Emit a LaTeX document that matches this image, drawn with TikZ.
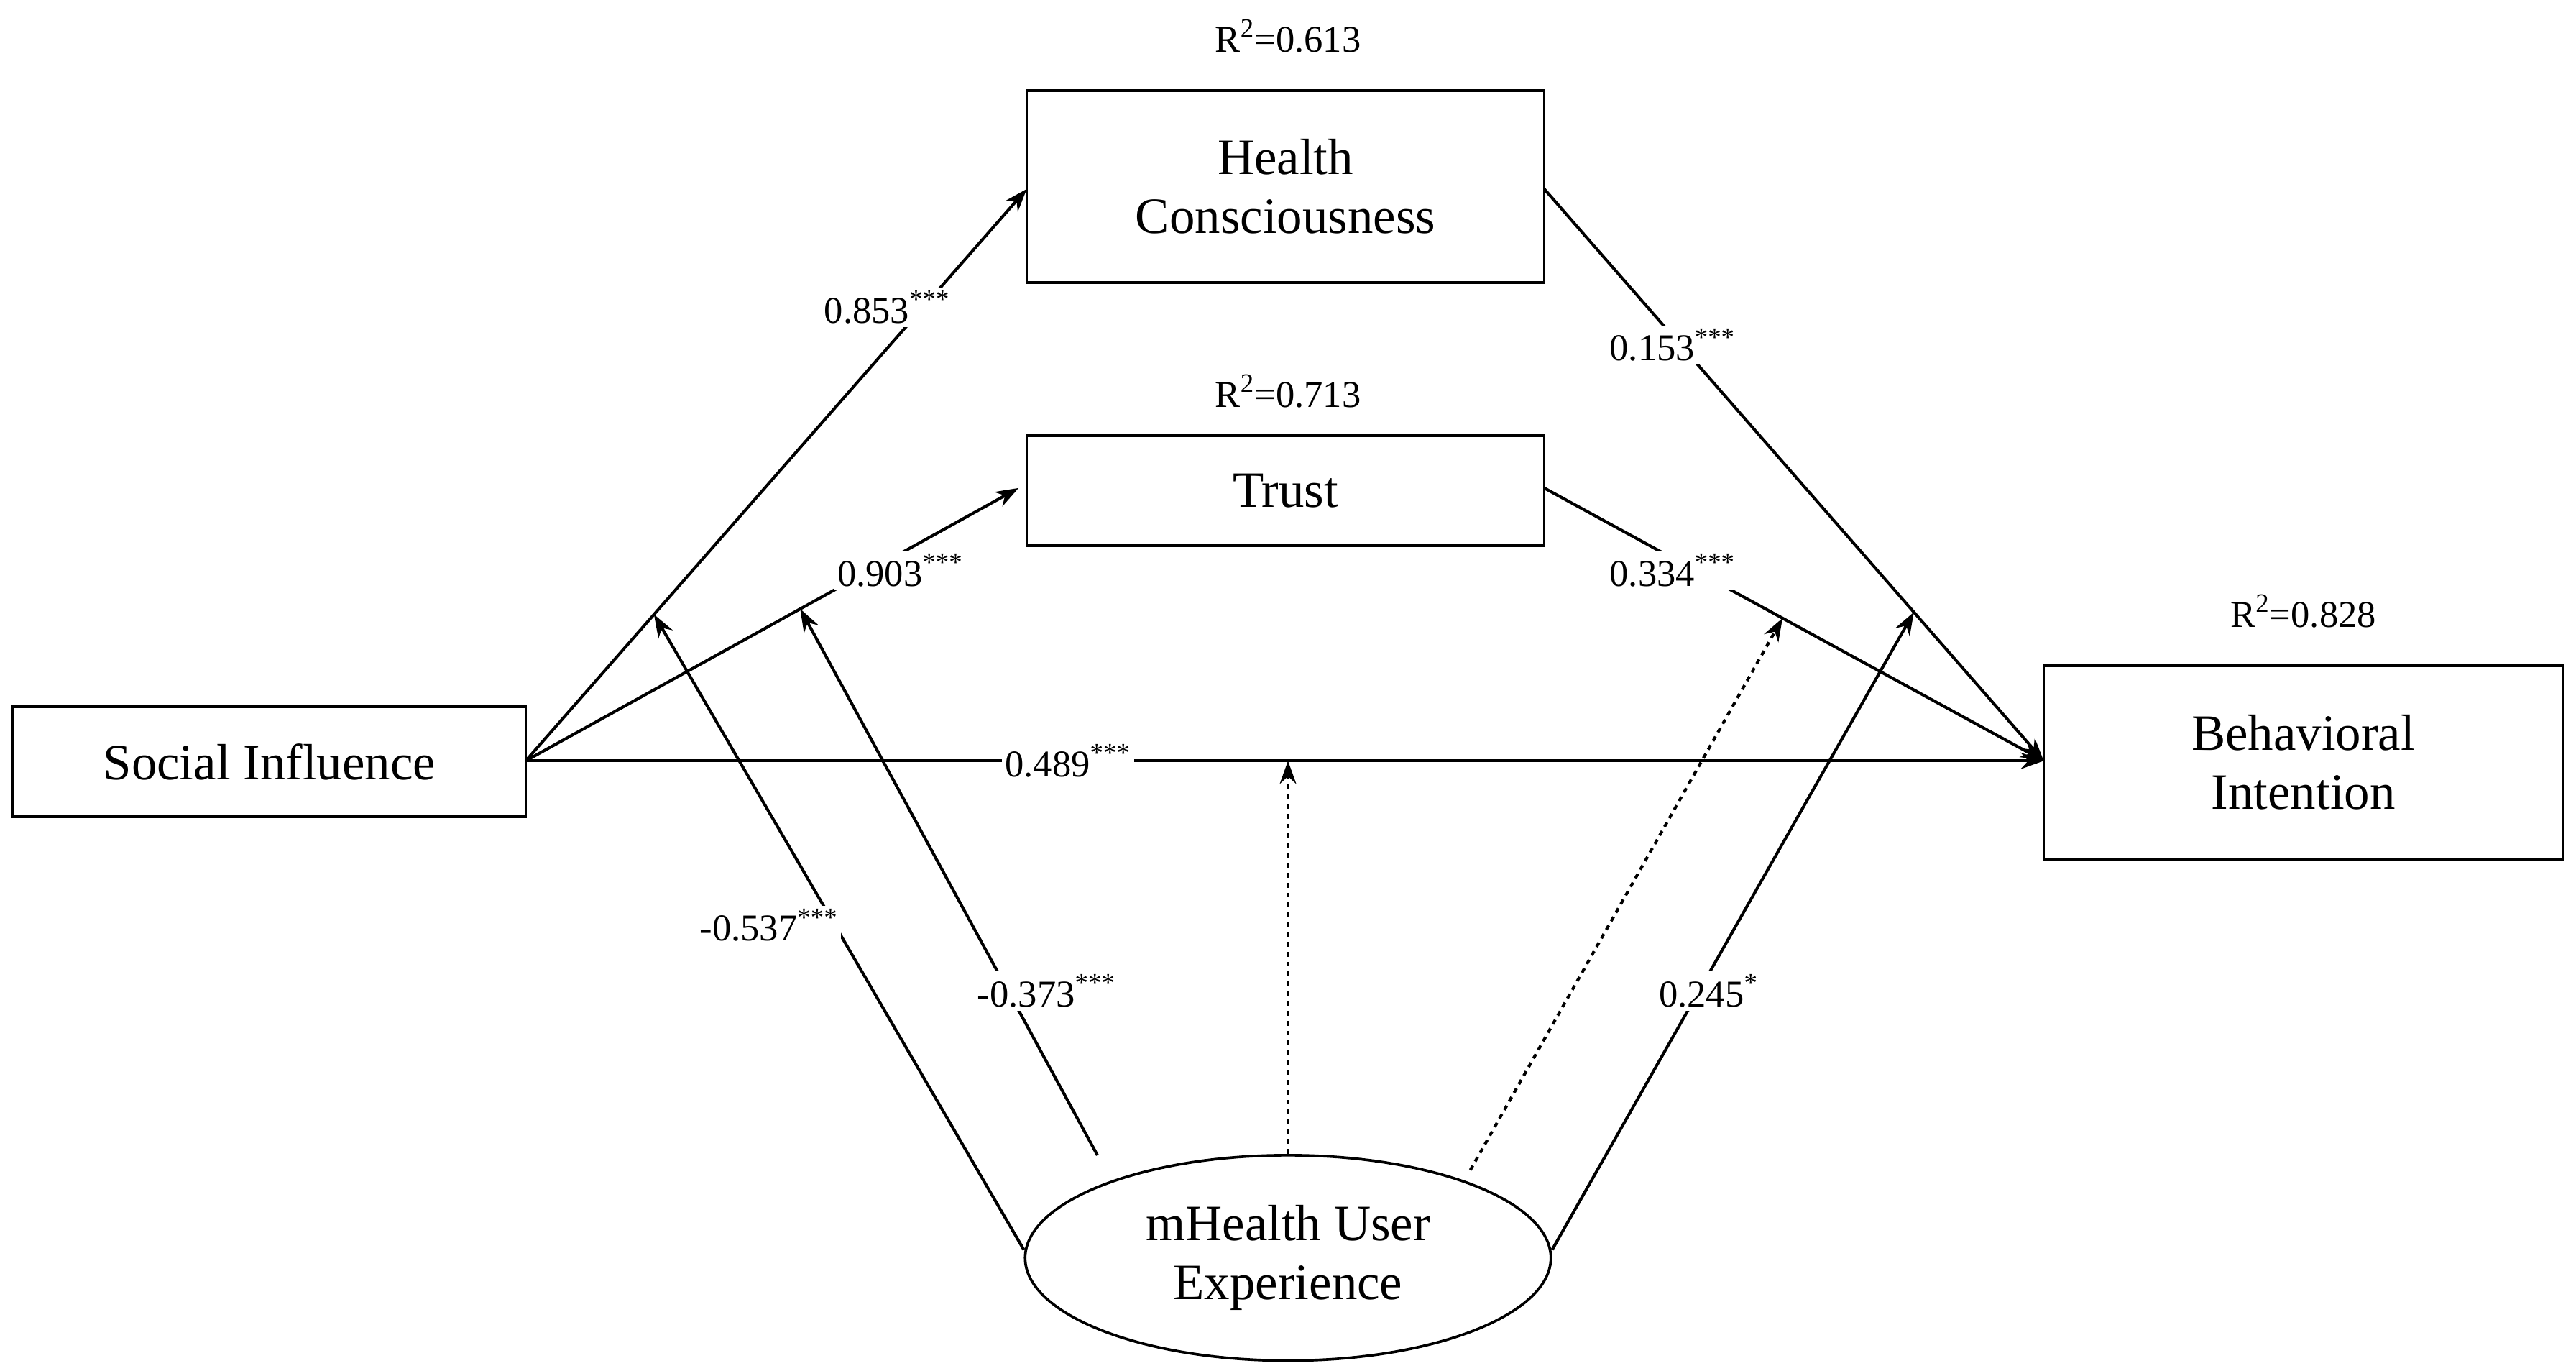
\documentclass[tikz,border=0pt]{standalone}
\usepackage{fontspec}
\setmainfont{Liberation Serif}
\usetikzlibrary{arrows.meta,shapes.geometric}
\begin{document}
\begin{tikzpicture}[x=1pt,y=-1pt,
  box/.style={draw,line width=1.6pt,font=\fontsize{31}{36}\selectfont,align=center,inner sep=0pt},
  lab/.style={fill=white,font=\fontsize{23}{26}\selectfont,inner sep=2pt},
  rsq/.style={font=\fontsize{23}{26}\selectfont},
  arr/.style={line width=1.8pt,-{Stealth[length=14pt,width=10pt]}},
  ln/.style={line width=1.8pt}]
\useasboundingbox (0,0) rectangle (1568,834);
\node[box,minimum width=315pt,minimum height=117pt] (hc) at (782.5,113.5) {Health\\Consciousness};
\node[box,minimum width=315pt,minimum height=67pt] (tr) at (782.5,298.5) {Trust};
\node[box,minimum width=312pt,minimum height=67pt] (si) at (164,463.5) {Social Influence};
\node[box,minimum width=316pt,minimum height=118pt] (bi) at (1402,464) {Behavioral\\Intention};
\node[draw,ellipse,line width=1.6pt,minimum width=320pt,minimum height=125pt,inner sep=0pt,align=center,font=\fontsize{31}{36}\selectfont] (ux) at (784,765.5) {mHealth User\\Experience};
\node[rsq] (r1) at (784,22) {R\textsuperscript{2}=0.613};
\node[rsq] (r2) at (784,238) {R\textsuperscript{2}=0.713};
\node[rsq] (r3) at (1402,372) {R\textsuperscript{2}=0.828};
\coordinate (sie) at (320,463);
\coordinate (bie) at (1244,463);
\draw[arr] (sie) -- coordinate[pos=0.256](m1) (625,115);
\draw[arr] (sie) -- coordinate[pos=0.557](m2) (620,297);
\draw[arr] (sie) -- coordinate[pos=0.50](m3) (bie);
\draw[arr] (940,115) -- coordinate[pos=0.74](m5) (bie);
\draw[arr] (940,297) -- coordinate[pos=0.477](m4) (bie);
\node[lab] at (540,187) {0.853\textsuperscript{***}};
\node[lab] at (548,347) {0.903\textsuperscript{***}};
\node[lab] at (650,463) {0.489\textsuperscript{***}};
\node[lab] at (1018,210) {0.153\textsuperscript{***}};
\node[lab] at (1018,347) {0.334\textsuperscript{***}};
\draw[arr] (ux.west) ++(0,-5) coordinate (u1) -- (m1);
\draw[arr] (668,703) coordinate (u2) -- (m2);
\draw[arr,dashed] (ux.north) -- (ux.north |- m3);
\draw[arr,dashed] (895,712) coordinate (u4) -- (m4);
\draw[arr] (ux.east) ++(0,-5) coordinate (u5) -- (m5);
\node[lab] at (468,563) {-0.537\textsuperscript{***}};
\node[lab] at (637,603) {-0.373\textsuperscript{***}};
\node[lab] at (1040,603) {0.245\textsuperscript{*}};
\end{tikzpicture}
\end{document}
